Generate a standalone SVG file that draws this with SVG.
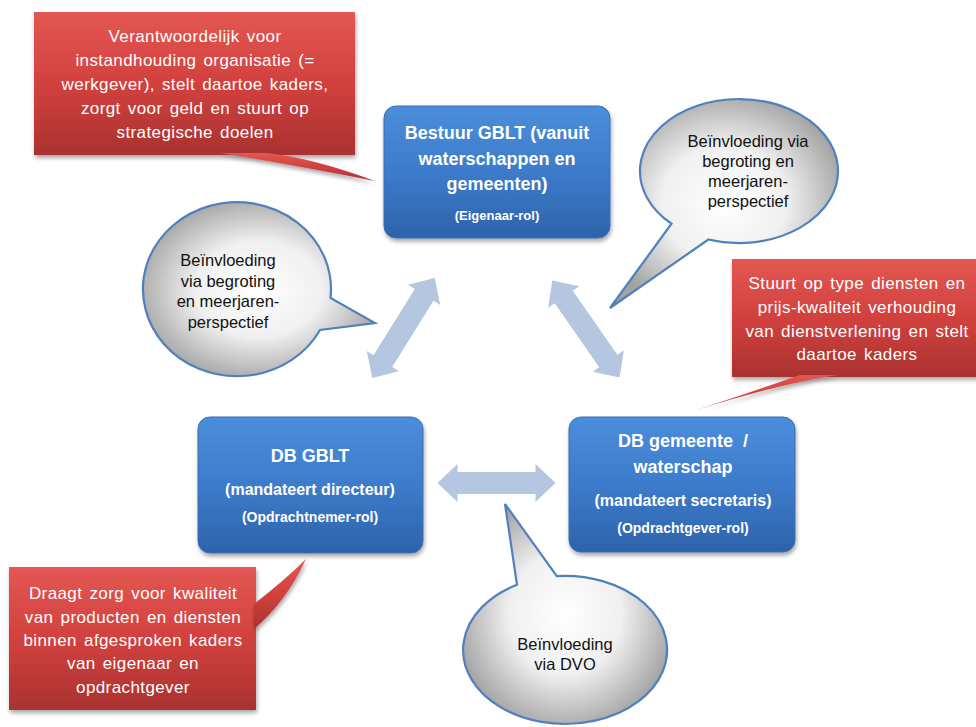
<svg xmlns="http://www.w3.org/2000/svg" width="976" height="727" viewBox="0 0 976 727">
<style>
.red{fill:url(#gRed);filter:url(#sh)}
.blue{fill:url(#gBlue);stroke:#3a6fb5;stroke-width:1;filter:url(#sh)}
.bub{fill:url(#gGrey);stroke:#4f81bd;stroke-width:2.2;stroke-linejoin:miter}
.arr{fill:#b4c6e0}
.wt{font-family:"Liberation Sans",Arial,sans-serif;font-size:17px;letter-spacing:0.4px;word-spacing:2px;fill:#fff;text-anchor:middle}
.bt{font-family:"Liberation Sans",Arial,sans-serif;font-weight:bold;fill:#fff;text-anchor:middle}
.kt{font-family:"Liberation Sans",Arial,sans-serif;font-size:16.5px;fill:#111;text-anchor:middle}
</style>
<defs>
<linearGradient id="gRed" x1="0" y1="0" x2="0" y2="1">
<stop offset="0" stop-color="#e35753"/>
<stop offset="0.5" stop-color="#d2413e"/>
<stop offset="1" stop-color="#a93230"/>
</linearGradient>
<linearGradient id="gBlue" x1="0" y1="0" x2="0" y2="1">
<stop offset="0" stop-color="#4b8edb"/>
<stop offset="0.5" stop-color="#3d7bcb"/>
<stop offset="1" stop-color="#2d63ab"/>
</linearGradient>
<radialGradient id="gGrey" cx="0.5" cy="0.5" r="0.55">
<stop offset="0" stop-color="#ffffff"/>
<stop offset="0.5" stop-color="#f0f0f0"/>
<stop offset="1" stop-color="#a2a2a2"/>
</radialGradient>
<filter id="sh" x="-10%" y="-10%" width="125%" height="130%">
<feGaussianBlur in="SourceAlpha" stdDeviation="2"/>
<feOffset dx="1" dy="3" result="o"/>
<feComponentTransfer><feFuncA type="linear" slope="0.35"/></feComponentTransfer>
<feMerge><feMergeNode/><feMergeNode in="SourceGraphic"/></feMerge>
</filter>
<path id="dbl" d="M-59,0 L-39,-19 L-39,-11 L39,-11 L39,-19 L59,0 L39,19 L39,11 L-39,11 L-39,19 Z"/>
</defs>
<rect width="976" height="727" fill="#fff"/>

<g id="connectors">
<use href="#dbl" class="arr" transform="translate(403.5,328) rotate(-58.1)"/>
<use href="#dbl" class="arr" transform="translate(586,329) rotate(55.2)"/>
<use href="#dbl" class="arr" transform="translate(496.5,483)"/>
</g>

<g id="callout-bestuur">
<rect class="red" x="34" y="12" width="321" height="143"/>
<path class="red" d="M220,153 Q300,166 375,181 Q310,157 265,153 Z"/>
<text class="wt" x="195" y="42">Verantwoordelijk voor</text>
<text class="wt" x="195" y="66">instandhouding organisatie (=</text>
<text class="wt" x="195" y="90">werkgever), stelt daartoe kaders,</text>
<text class="wt" x="195" y="114">zorgt voor geld en stuurt op</text>
<text class="wt" x="195" y="138">strategische doelen</text>
</g>

<g id="bestuur">
<rect class="blue" x="384" y="106" width="226" height="132" rx="12"/>
<text class="bt" x="497" y="139" font-size="18">Bestuur GBLT (vanuit</text>
<text class="bt" x="497" y="165" font-size="18">waterschappen en</text>
<text class="bt" x="497" y="190" font-size="18">gemeenten)</text>
<text class="bt" x="497" y="220" font-size="13">(Eigenaar-rol)</text>
</g>

<g id="bubble-topright">
<path class="bub" d="M708.4,239.5 A99,72 0 1 0 671.5,223.7 L610,308 Z"/>
<text class="kt" x="748" y="147">Beïnvloeding via</text>
<text class="kt" x="748" y="167">begroting en</text>
<text class="kt" x="748" y="187">meerjaren-</text>
<text class="kt" x="748" y="207">perspectief</text>
</g>

<g id="bubble-left">
<path class="bub" d="M330.5,298 A94,87 0 1 0 320,330 L375,323 Z"/>
<text class="kt" x="228" y="266">Beïnvloeding</text>
<text class="kt" x="228" y="287">via begroting</text>
<text class="kt" x="228" y="307">en meerjaren-</text>
<text class="kt" x="228" y="328">perspectief</text>
</g>

<g id="callout-gemeente">
<rect class="red" x="732" y="259" width="250" height="118"/>
<path class="red" d="M800,375 Q740,396 693,411 Q770,386 837,375 Z"/>
<text class="wt" x="857" y="289">Stuurt op type diensten en</text>
<text class="wt" x="857" y="313">prijs-kwaliteit verhouding</text>
<text class="wt" x="857" y="337">van dienstverlening en stelt</text>
<text class="wt" x="857" y="360">daartoe kaders</text>
</g>

<g id="db-gblt">
<rect class="blue" x="198" y="417" width="225" height="136" rx="12"/>
<text class="bt" x="310" y="462" font-size="18">DB GBLT</text>
<text class="bt" x="310" y="495" font-size="16">(mandateert directeur)</text>
<text class="bt" x="310" y="522" font-size="14">(Opdrachtnemer-rol)</text>
</g>

<g id="db-gemeente">
<rect class="blue" x="569" y="417" width="226" height="135" rx="12"/>
<text class="bt" x="683" y="447" font-size="18" xml:space="preserve">DB gemeente  /</text>
<text class="bt" x="683" y="473" font-size="18">waterschap</text>
<text class="bt" x="683" y="506" font-size="16">(mandateert secretaris)</text>
<text class="bt" x="683" y="533" font-size="14">(Opdrachtgever-rol)</text>
</g>

<g id="callout-gblt">
<rect class="red" x="9" y="567" width="247" height="143"/>
<path class="red" d="M254,604 Q285,580 306,559 Q286,602 254,629 Z"/>
<text class="wt" x="133" y="599">Draagt zorg voor kwaliteit</text>
<text class="wt" x="133" y="623">van producten en diensten</text>
<text class="wt" x="133" y="646">binnen afgesproken kaders</text>
<text class="wt" x="133" y="669">van eigenaar en</text>
<text class="wt" x="133" y="693">opdrachtgever</text>
</g>

<g id="bubble-bottom">
<path class="bub" d="M556.8,576.2 A102,74 0 1 1 517,584.7 L505,504 Z"/>
<text class="kt" x="565" y="650">Beïnvloeding</text>
<text class="kt" x="565" y="670">via DVO</text>
</g>
</svg>
